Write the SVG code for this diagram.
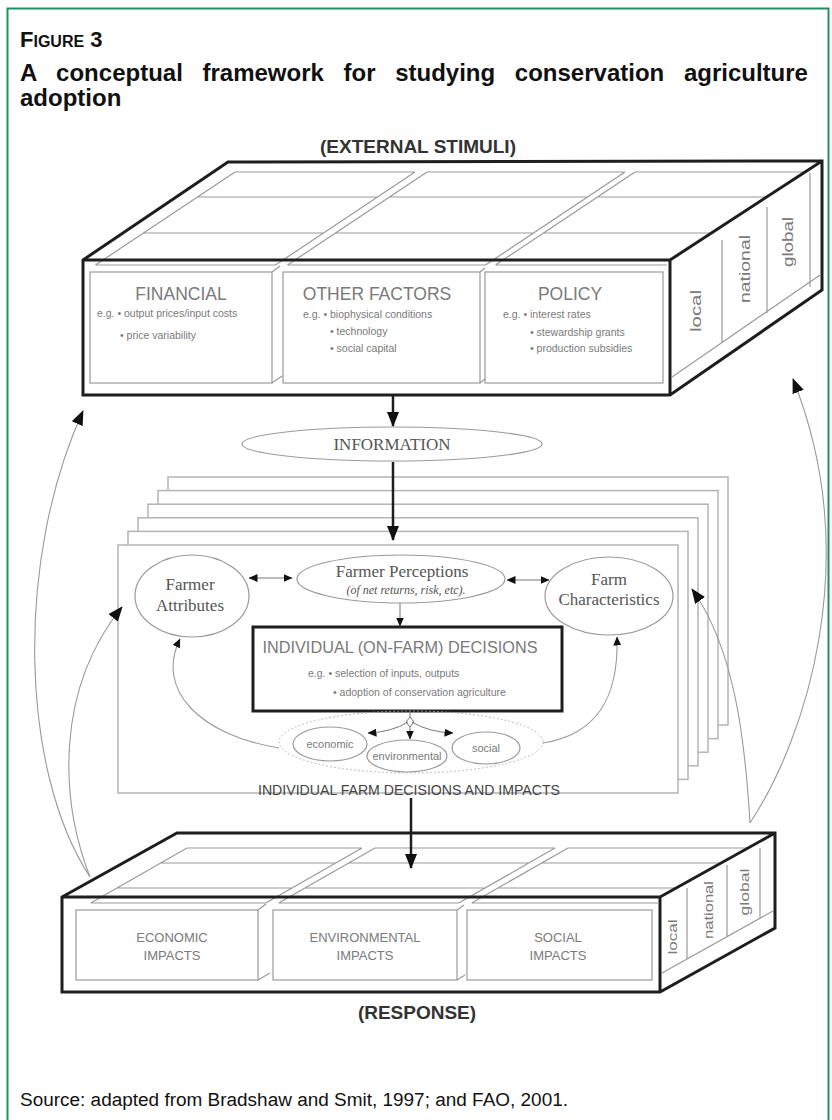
<svg xmlns="http://www.w3.org/2000/svg" width="832" height="1120" viewBox="0 0 832 1120">
<style>
.thick{fill:none;stroke:#1e1e1e;stroke-width:3;stroke-linejoin:miter}
.thin{fill:none;stroke:#9a9a9a;stroke-width:1.2}
.panel{fill:#fff;stroke:#9a9a9a;stroke-width:1.2}
.page{fill:#fff;stroke:#b4b4b4;stroke-width:1.5}
.oval{fill:#fff;stroke:#9a9a9a;stroke-width:1.2}
.goth{font-family:"Liberation Sans",Arial,sans-serif;fill:#7a7a7a}
.serif{font-family:"Liberation Serif","Times New Roman",serif;fill:#555}
.head{font-family:"Liberation Sans",Arial,sans-serif;font-weight:bold;fill:#333}
.curve{fill:none;stroke:#9a9a9a;stroke-width:1.1}
.small{fill:none;stroke:#777;stroke-width:1}
.bold{fill:none;stroke:#1e1e1e;stroke-width:2.5}
</style>
<defs>
<marker id="ahB" viewBox="0 0 15 12" refX="14" refY="6" markerWidth="15" markerHeight="12" orient="auto" markerUnits="userSpaceOnUse"><path d="M0,0 L15,6 L0,12 z" fill="#111"/></marker>
<marker id="ahS" viewBox="0 0 9 8" refX="8.5" refY="4" markerWidth="9" markerHeight="8" orient="auto-start-reverse" markerUnits="userSpaceOnUse"><path d="M0,0 L9,4 L0,8 z" fill="#111"/></marker>
</defs>
<rect width="832" height="1120" fill="#fff"/>
<rect x="7.5" y="8.5" width="821" height="1130" fill="none" stroke="#229160" stroke-width="2"/>

<g id="title">
<text x="20" y="47" font-family="Liberation Sans, Arial, sans-serif" font-weight="bold" font-size="22" fill="#111">F<tspan font-size="16">IGURE</tspan> 3</text>
<text x="20" y="81" font-family="Liberation Sans, Arial, sans-serif" font-weight="bold" font-size="24" word-spacing="13" fill="#111">A conceptual framework for studying conservation agriculture</text>
<text x="20" y="106" font-family="Liberation Sans, Arial, sans-serif" font-weight="bold" font-size="24" fill="#111">adoption</text>
</g>

<text class="head" x="418" y="153" font-size="19" text-anchor="middle">(EXTERNAL STIMULI)</text>

<g id="external-stimuli-box">
<path d="M83,260 L228,162 L822,161 L822,290 L670,395 L83,395 Z" fill="#fff"/>
<path class="thin" d="M235,172 H415 M427,172 H625 M635,172 H805 M197.5,197 H377.5 M389.5,197 H587.5 M597.5,197 H768 M143.5,233 H323.5 M335.5,233 H533.5 M543.5,233 H714 M95.5,265 H275.5 M287.5,265 H485.5 M495.5,265 H667 M235,172 L95.5,265 M415,172 L275.5,265 M427,172 L287.5,265 M625,172 L485.5,265 M635,172 L495.5,265"/>
<rect class="panel" x="90" y="272" width="182" height="111"/>
<rect class="panel" x="283" y="272" width="197" height="111"/>
<rect class="panel" x="485" y="272" width="178" height="111"/>
<path class="thin" d="M272,383 L282,376 M480,383 L485,379 M272,272 L280,266 M480,272 L485,268"/>
<path class="thin" d="M722,240 V342 M767,207 V313 M810,173 V287 M672,377 L820,275"/>
<path class="thick" d="M83,260 L228,162 L822,161 L822,290 L670,395 L83,395 Z M83,260 H670 V395 M670,260 L822,161"/>
<text class="goth" x="181" y="300" font-size="17.5" text-anchor="middle">FINANCIAL</text>
<text class="goth" x="97" y="317" font-size="10.5">e.g. • output prices/input costs</text>
<text class="goth" x="120" y="339" font-size="10.5">• price variability</text>
<text class="goth" x="377" y="300" font-size="17.5" text-anchor="middle">OTHER FACTORS</text>
<text class="goth" x="303" y="318" font-size="10.5">e.g. • biophysical conditions</text>
<text class="goth" x="330" y="335" font-size="10.5">• technology</text>
<text class="goth" x="330" y="352" font-size="10.5">• social capital</text>
<text class="goth" x="570" y="300" font-size="17.5" text-anchor="middle">POLICY</text>
<text class="goth" x="503" y="318" font-size="10.5">e.g. • interest rates</text>
<text class="goth" x="530" y="336" font-size="10.5">• stewardship grants</text>
<text class="goth" x="530" y="352" font-size="10.5">• production subsidies</text>
<text class="goth" transform="translate(701,311) rotate(-90)" font-size="15" text-anchor="middle" fill="#555" textLength="42" lengthAdjust="spacingAndGlyphs">local</text>
<text class="goth" transform="translate(750,269) rotate(-90)" font-size="15" text-anchor="middle" fill="#555" textLength="68" lengthAdjust="spacingAndGlyphs">national</text>
<text class="goth" transform="translate(793,242) rotate(-90)" font-size="15" text-anchor="middle" fill="#555" textLength="50" lengthAdjust="spacingAndGlyphs">global</text>
</g>

<g id="information">
<ellipse class="oval" cx="392" cy="444" rx="150" ry="17"/>
<text class="serif" x="392" y="450" font-size="17" text-anchor="middle">INFORMATION</text>
</g>

<g id="farm-pages">
<rect class="page" x="168" y="477" width="560" height="248"/>
<rect class="page" x="158" y="490.6" width="560" height="248"/>
<rect class="page" x="148" y="504.2" width="560" height="248"/>
<rect class="page" x="138" y="517.8" width="560" height="248"/>
<rect class="page" x="128" y="531.4" width="560" height="248"/>
<rect class="page" x="118" y="545" width="560" height="248"/>
<text x="409" y="795" font-family="Liberation Sans, Arial, sans-serif" font-size="14" fill="#444" text-anchor="middle" textLength="302" lengthAdjust="spacingAndGlyphs">INDIVIDUAL FARM DECISIONS AND  IMPACTS</text>
</g>

<g id="farmer-attributes">
<ellipse class="oval" cx="192" cy="596" rx="57" ry="41"/>
<text class="serif" x="190" y="590" font-size="17" text-anchor="middle">Farmer</text>
<text class="serif" x="190" y="611" font-size="17" text-anchor="middle">Attributes</text>
</g>

<g id="farmer-perceptions">
<ellipse class="oval" cx="401" cy="579" rx="104" ry="24"/>
<text class="serif" x="402" y="577" font-size="17" text-anchor="middle">Farmer Perceptions</text>
<text class="serif" x="406" y="594" font-size="12" font-style="italic" fill="#333" text-anchor="middle">(of net returns, risk, etc).</text>
</g>

<g id="farm-characteristics">
<ellipse class="oval" cx="609" cy="596" rx="64" ry="39"/>
<text class="serif" x="609" y="585" font-size="17" text-anchor="middle">Farm</text>
<text class="serif" x="609" y="605" font-size="17" text-anchor="middle">Characteristics</text>
</g>

<g id="decisions">
<rect x="253" y="627" width="309" height="84" fill="#fff" stroke="#1e1e1e" stroke-width="3"/>
<text class="goth" x="400" y="653" font-size="16" fill="#666" text-anchor="middle" textLength="275" lengthAdjust="spacingAndGlyphs">INDIVIDUAL (ON-FARM) DECISIONS</text>
<text class="goth" x="308" y="677" font-size="10.5">e.g. • selection of inputs,  outputs</text>
<text class="goth" x="333" y="696" font-size="10.5">• adoption of conservation agriculture</text>
</g>

<g id="impacts">
<ellipse cx="411" cy="742" rx="132" ry="31" fill="none" stroke="#aaa" stroke-width="1" stroke-dasharray="1.5 2.5"/>
<ellipse class="oval" cx="330" cy="744" rx="37" ry="17"/>
<text class="goth" x="330" y="748" font-size="11" text-anchor="middle">economic</text>
<ellipse class="oval" cx="407" cy="756" rx="40" ry="16"/>
<text class="goth" x="407" y="760" font-size="11" text-anchor="middle">environmental</text>
<ellipse class="oval" cx="486" cy="748" rx="34" ry="16"/>
<text class="goth" x="486" y="752" font-size="11" text-anchor="middle">social</text>
</g>

<g id="response-box">
<path d="M62,897 L177,833 L775,833 L775,928 L660,992 L62,992 Z" fill="#fff"/>
<path class="thin" d="M187,848 H362 M375,848 H555 M568,848 H748 M160.75,863 H335.75 M348.75,863 H528.75 M541.75,863 H722 M117,888 H292 M305,888 H485 M498,888 H677 M90.75,903 H265.75 M278.75,903 H458.75 M471.75,903 H658 M187,848 L90.75,903 M362,848 L265.75,903 M375,848 L278.75,903 M555,848 L458.75,903 M568,848 L471.75,903"/>
<rect class="panel" x="76" y="910" width="182" height="70"/>
<rect class="panel" x="273" y="910" width="184" height="70"/>
<rect class="panel" x="467" y="910" width="185" height="70"/>
<path class="thin" d="M258,980 L270,973 M457,980 L465,975 M258,910 L266,904 M457,910 L464,905"/>
<path class="thin" d="M687,888 V959 M727,865 V937 M760,848 V918 M662,973 L773,911"/>
<path class="thick" d="M62,897 L177,833 L775,833 L775,928 L660,992 L62,992 Z M62,897 H660 V992 M660,897 L775,833"/>
<text class="goth" x="172" y="942" font-size="13" text-anchor="middle" fill="#888">ECONOMIC</text>
<text class="goth" x="172" y="960" font-size="13" text-anchor="middle" fill="#888">IMPACTS</text>
<text class="goth" x="365" y="942" font-size="13" text-anchor="middle" fill="#888">ENVIRONMENTAL</text>
<text class="goth" x="365" y="960" font-size="13" text-anchor="middle" fill="#888">IMPACTS</text>
<text class="goth" x="558" y="942" font-size="13" text-anchor="middle" fill="#888">SOCIAL</text>
<text class="goth" x="558" y="960" font-size="13" text-anchor="middle" fill="#888">IMPACTS</text>
<text class="goth" transform="translate(676.5,937) rotate(-90)" font-size="12" text-anchor="middle" fill="#555" textLength="35" lengthAdjust="spacingAndGlyphs">local</text>
<text class="goth" transform="translate(712.5,910) rotate(-90)" font-size="12" text-anchor="middle" fill="#555" textLength="58" lengthAdjust="spacingAndGlyphs">national</text>
<text class="goth" transform="translate(748.5,892) rotate(-90)" font-size="12" text-anchor="middle" fill="#555" textLength="47" lengthAdjust="spacingAndGlyphs">global</text>
</g>

<text class="head" x="417" y="1019" font-size="19" text-anchor="middle">(RESPONSE)</text>

<g id="connectors">
<path class="bold" d="M393,396 V426" marker-end="url(#ahB)"/>
<path class="bold" d="M393,462 V540" marker-end="url(#ahB)"/>
<path class="bold" d="M411,798 V868" marker-end="url(#ahB)"/>
<path class="small" d="M249,578 H292" marker-start="url(#ahS)" marker-end="url(#ahS)"/>
<path class="small" d="M507,580 H549" marker-start="url(#ahS)" marker-end="url(#ahS)"/>
<path class="small" d="M400,603 V626" marker-end="url(#ahS)"/>
<path class="small" d="M410,711 V717 M410,717 L414,722 L410,727 L406,722 Z"/>
<path class="small" d="M410,727 V739" marker-end="url(#ahS)"/>
<path class="small" d="M408,722 Q392,732 368,733" marker-end="url(#ahS)"/>
<path class="small" d="M412,722 Q428,732 453,733" marker-end="url(#ahS)"/>
<path class="curve" d="M279,748 C200,735 155,690 180,639" marker-end="url(#ahS)"/>
<path class="curve" d="M543,743 C595,735 619,700 617,637" marker-end="url(#ahS)"/>
<path class="curve" d="M90,877 C20,770 15,560 83,411" marker-end="url(#ahB)"/>
<path class="curve" d="M90,877 C60,800 55,690 122,607" marker-end="url(#ahB)"/>
<path class="curve" d="M750,823 C805,740 865,560 793,379" marker-end="url(#ahB)"/>
<path class="curve" d="M750,823 C745,740 735,650 692,589" marker-end="url(#ahB)"/>
</g>

<text x="20" y="1106" font-family="Liberation Sans, Arial, sans-serif" font-size="18" fill="#111" textLength="548" lengthAdjust="spacingAndGlyphs">Source: adapted from Bradshaw and Smit, 1997; and FAO, 2001.</text>
</svg>
